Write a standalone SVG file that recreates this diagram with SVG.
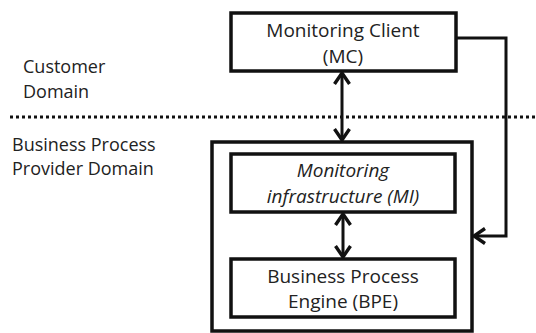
<svg xmlns="http://www.w3.org/2000/svg" width="536" height="333" viewBox="0 0 536 333">
<style>
.box{fill:#fff;stroke:#111;stroke-width:3.5}
.t{font-family:"Open Sans","Noto Sans",sans-serif;font-size:19px;fill:#222}
.s{font-size:18px}
.c{text-anchor:middle}
.i{font-style:italic}
.ln{fill:none;stroke:#111;stroke-width:3}
</style>
<defs>
<marker id="ah" markerUnits="userSpaceOnUse" viewBox="0 0 16 18" refX="13" refY="9" markerWidth="16" markerHeight="18" orient="auto-start-reverse">
<path d="M2,1.5 L13,9 L2,16.5" fill="none" stroke="#111" stroke-width="3.4" stroke-linejoin="miter"/>
</marker>
</defs>
<g id="divider">
<line x1="10" y1="117" x2="536" y2="117" stroke="#111" stroke-width="3" stroke-dasharray="3 3"/>
</g>
<g id="customer-domain">
<text class="t s" x="23" y="73">Customer</text>
<text class="t s" x="23" y="98">Domain</text>
</g>
<g id="provider-domain">
<text class="t s" x="12" y="151">Business Process</text>
<text class="t s" x="12" y="175">Provider Domain</text>
</g>
<g id="provider-container">
<rect class="box" x="212" y="142" width="260" height="189"/>
</g>
<g id="mc">
<rect class="box" x="231" y="13" width="225" height="58"/>
<text class="t c" x="343" y="37">Monitoring Client</text>
<text class="t c" x="343" y="63">(MC)</text>
</g>
<g id="mi">
<rect class="box" x="231" y="154" width="224" height="58"/>
<text class="t c i" x="343" y="177">Monitoring</text>
<text class="t c i" x="343" y="203">infrastructure (MI)</text>
</g>
<g id="bpe">
<rect class="box" x="231" y="259" width="224" height="58"/>
<text class="t c" x="343" y="283">Business Process</text>
<text class="t c" x="343" y="308">Engine (BPE)</text>
</g>
<g id="connectors">
<line class="ln" x1="342" y1="73" x2="342" y2="140" marker-start="url(#ah)" marker-end="url(#ah)"/>
<line class="ln" x1="343" y1="214" x2="343" y2="257" marker-start="url(#ah)" marker-end="url(#ah)"/>
<polyline class="ln" points="456,38 506,38 506,236 474,236" marker-end="url(#ah)"/>
</g>
</svg>
